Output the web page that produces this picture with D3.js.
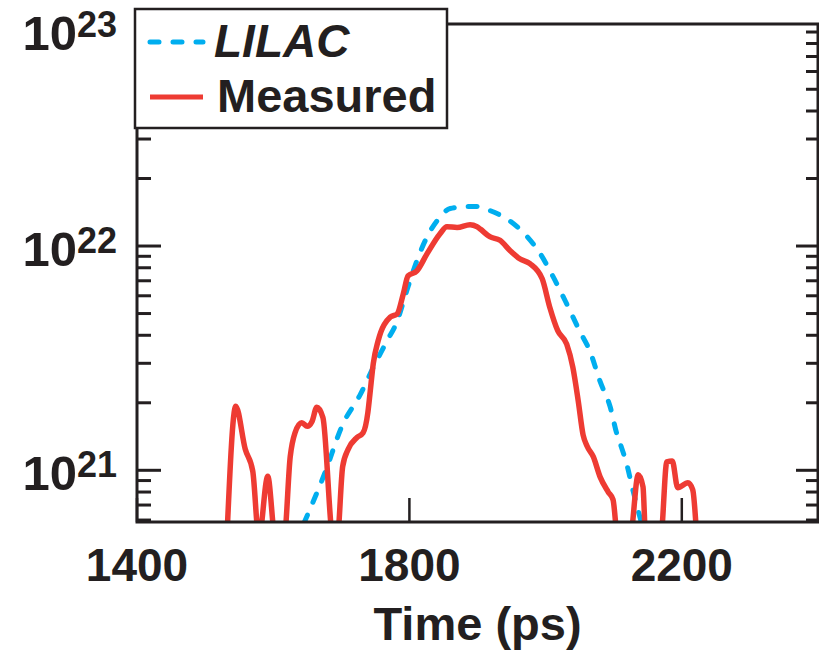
<!DOCTYPE html>
<html><head><meta charset="utf-8">
<script src="https://cdn.jsdelivr.net/npm/d3@7"></script>
<style>
body{margin:0;background:#fff}
svg{display:block}
text{font-family:"Liberation Sans",Arial,Helvetica,sans-serif;font-weight:bold;fill:#231f20}
</style>
</head><body>
<script>
// ---- data (time in ps, density) ----
const lilacTime  = [1645, 1676, 1702, 1728, 1747, 1767, 1782, 1796, 1811, 1826, 1841, 1860, 1885, 1899, 1918, 1948, 1973, 1992, 2011, 2031, 2050, 2065, 2080, 2095, 2105, 2109, 2120, 2128, 2139, 2143];
const lilacValue = [5.8e20, 9.75e20, 1.60e21, 2.18e21, 2.88e21, 3.77e21, 4.62e21, 6.3e21, 8.6e21, 1.10e22, 1.30e22, 1.47e22, 1.50e22, 1.50e22, 1.44e22, 1.29e22, 1.10e22, 9.25e21, 7.3e21, 5.52e21, 4.18e21, 3.40e21, 2.49e21, 1.91e21, 1.44e21, 1.33e21, 1.04e21, 8.2e20, 6.1e20, 5.5e20];

const measuredTime  = [1532, 1545, 1559, 1570, 1579, 1592, 1603, 1616, 1625, 1632, 1642, 1650, 1657, 1664, 1673, 1688, 1694, 1702, 1710, 1723, 1732, 1739, 1742, 1747, 1754, 1772, 1782, 1791, 1798, 1811, 1826, 1845, 1855, 1870, 1889, 1899, 1904, 1918, 1933, 1948, 1962, 1977, 1995, 2006, 2018, 2031, 2040, 2048, 2055, 2061, 2070, 2080, 2092, 2099, 2106, 2124, 2136, 2143, 2147, 2169, 2178, 2186, 2194, 2209, 2216, 2222];
const measuredValue = [5e20, 1.93e21, 1.24e21, 9.9e20, 5e20, 9.4e20, 5e20, 5e20, 1.15e21, 1.47e21, 1.63e21, 1.57e21, 1.65e21, 1.91e21, 1.72e21, 5e20, 5e20, 1.04e21, 1.24e21, 1.40e21, 1.47e21, 1.81e21, 2.18e21, 3.0e21, 3.77e21, 4.82e21, 4.98e21, 6.11e21, 7.36e21, 7.75e21, 9.25e21, 1.135e22, 1.22e22, 1.21e22, 1.245e22, 1.22e22, 1.19e22, 1.10e22, 1.06e22, 9.53e21, 8.77e21, 8.34e21, 7.14e21, 5.35e21, 4.18e21, 3.65e21, 2.88e21, 2.03e21, 1.44e21, 1.28e21, 1.15e21, 9.35e20, 8.0e20, 7.4e20, 5e20, 5e20, 9.55e20, 8.45e20, 5e20, 5e20, 1.09e21, 1.10e21, 8.36e20, 8.8e20, 8.2e20, 5e20];

const seriesNames = ["LILAC", "Measured"];
const xTickValues = [1400, 1800, 2200];
const yDecades = [21, 22, 23];
const xAxisTitle = "Time (ps)";

// ---- layout ----
const W = 819, H = 657;
const L = 137, R = 818, T = 24, B = 522;
const red = "#ee3b33", blue = "#00aeef", ink = "#231f20";

const svg = d3.select("body").append("svg").attr("width", W).attr("height", H);

const x = d3.scaleLinear().domain([1400, 2400]).range([L, R]);
const y = d3.scaleLog().domain([Math.pow(10, 20.765), Math.pow(10, 22.99)]).range([B + 1, T]);

svg.append("clipPath").attr("id", "clip")
  .append("rect").attr("x", L).attr("y", T).attr("width", R - L).attr("height", B - T);

const line = d3.line().x(d => x(d[0])).y(d => y(d[1])).curve(d3.curveMonotoneX);
const lilac = lilacTime.map((t, i) => [t, lilacValue[i]]);
const measured = measuredTime.map((t, i) => [t, measuredValue[i]]);

const g = svg.append("g").attr("clip-path", "url(#clip)");
g.append("path").datum(lilac).attr("d", line)
  .attr("fill", "none").attr("stroke", blue).attr("stroke-width", 5)
  .attr("stroke-dasharray", "9,14").attr("stroke-linecap", "round").attr("stroke-linejoin", "round");
g.append("path").datum(measured).attr("d", line)
  .attr("fill", "none").attr("stroke", red).attr("stroke-width", 5.5)
  .attr("stroke-linejoin", "round");

// ---- ticks (inward) ----
const minorY = [];
for (let e = 20; e <= 22; e++) for (let m = 2; m <= 9; m++) {
  const v = m * Math.pow(10, e);
  if (v > y.domain()[0] && v < y.domain()[1]) minorY.push(v);
}
const majorY = yDecades.map(e => Math.pow(10, e));

const axG = svg.append("g").attr("stroke", ink).attr("stroke-width", 3);
majorY.forEach(v => {
  if (y(v) < T + 2) return;
  axG.append("line").attr("x1", L).attr("x2", L + 24).attr("y1", y(v)).attr("y2", y(v));
  axG.append("line").attr("x1", R).attr("x2", R - 22).attr("y1", y(v)).attr("y2", y(v));
});
minorY.forEach(v => {
  axG.append("line").attr("x1", L).attr("x2", L + 14).attr("y1", y(v)).attr("y2", y(v));
  axG.append("line").attr("x1", R).attr("x2", R - 12).attr("y1", y(v)).attr("y2", y(v));
});
xTickValues.forEach(t => {
  axG.append("line").attr("x1", x(t)).attr("x2", x(t)).attr("y1", B).attr("y2", B - 24)
    .attr("stroke-width", 2.5);
});

// frame
svg.append("rect").attr("x", L).attr("y", T).attr("width", R - L).attr("height", B - T)
  .attr("fill", "none").attr("stroke", ink).attr("stroke-width", 3);

// x tick labels
xTickValues.forEach(t => {
  svg.append("text").attr("x", x(t)).attr("y", 581).attr("text-anchor", "middle")
    .attr("font-size", 46).text(t);
});
// x title
svg.append("text").attr("x", (L + R) / 2).attr("y", 640).attr("text-anchor", "middle")
  .attr("font-size", 47).text(xAxisTitle);

// y tick labels
yDecades.forEach(e => {
  const yy = Math.max(y(Math.pow(10, e)) + 20, 50);
  const t = svg.append("text").attr("x", 117).attr("y", yy).attr("text-anchor", "end");
  t.append("tspan").attr("font-size", 49).text("10");
  t.append("tspan").attr("font-size", 36).attr("dy", -13).text(String(e));
});

// legend
const lg = svg.append("g");
lg.append("rect").attr("x", 135).attr("y", 9).attr("width", 312).attr("height", 119)
  .attr("fill", "#fff").attr("stroke", ink).attr("stroke-width", 2.5);
lg.append("line").attr("x1", 150).attr("x2", 203).attr("y1", 42).attr("y2", 42)
  .attr("stroke", blue).attr("stroke-width", 5).attr("stroke-dasharray", "9,14").attr("stroke-linecap", "round");
lg.append("line").attr("x1", 150).attr("x2", 203).attr("y1", 97).attr("y2", 97)
  .attr("stroke", red).attr("stroke-width", 5);
lg.append("text").attr("x", 214).attr("y", 57).attr("font-size", 46).attr("font-style", "italic").text(seriesNames[0]);
lg.append("text").attr("x", 217).attr("y", 112).attr("font-size", 47).text(seriesNames[1]);
</script>
</body></html>
